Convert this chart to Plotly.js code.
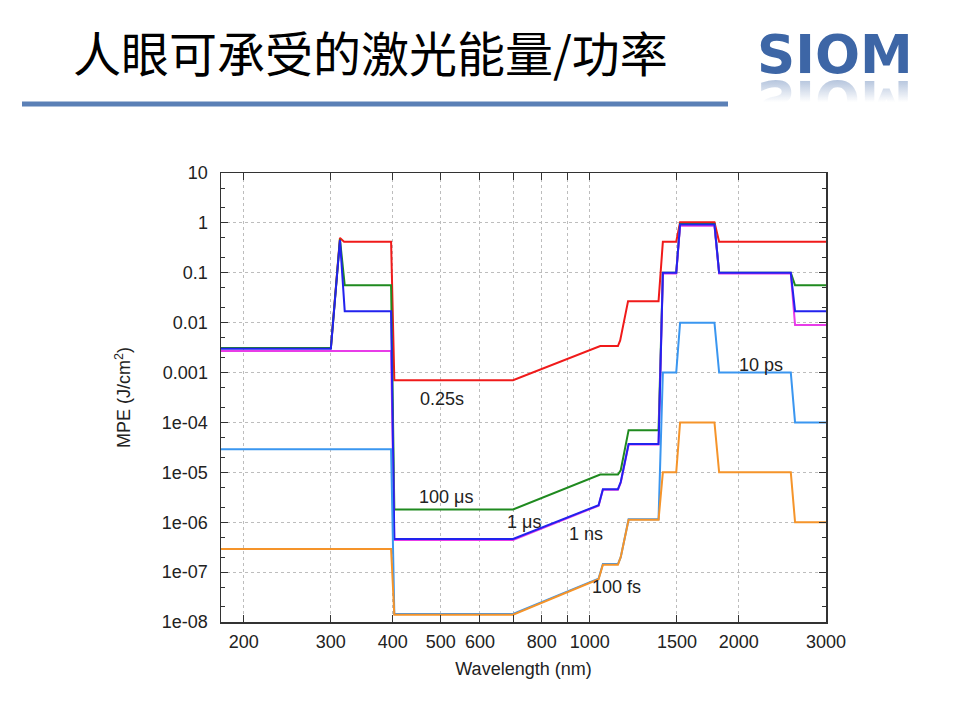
<!DOCTYPE html>
<html>
<head>
<meta charset="utf-8">
<script src="https://cdn.plot.ly/plotly-3.0.1.min.js"></script>
<style>
  body { margin: 0; background: #fff; }
  #wrap { position: relative; width: 960px; height: 720px; }
  #mirror {
    position: absolute; left: 757px; top: 73px;
    font-family: "DejaVu Sans"; font-weight: bold; font-size: 53px; line-height: 1;
    transform: scaleY(-1);
    background: linear-gradient(to top, rgba(61,102,166,0.5) 0%, rgba(61,102,166,0) 55%);
    -webkit-background-clip: text; background-clip: text; color: transparent;
  }
</style>
</head>
<body>
<div id="wrap">
  <div id="chart"></div>
  <div id="mirror">SIOM</div>
</div>
<script>
// wavelengths (nm) and MPE values (J/cm^2)
const wlRed = [180, 300, 313, 319, 397, 403, 700, 1050, 1140, 1152, 1195, 1377, 1405, 1495, 1522, 1786, 1825, 3000];
const mpeRed = [0.0031, 0.0031, 0.5, 0.42, 0.42, 0.0007, 0.0007, 0.0034, 0.0034, 0.0044, 0.027, 0.027, 0.42, 0.42, 1.03, 1.03, 0.42, 0.42];

const wlGreen = [180, 300, 313, 320, 397, 403, 700, 1050, 1140, 1155, 1198, 1377, 1405, 1495, 1522, 1786, 1825, 2547, 2598, 3000];
const mpeGreen = [0.0031, 0.0031, 0.47, 0.056, 0.056, 1.8e-6, 1.8e-6, 9e-6, 9e-6, 1.1e-5, 7e-5, 7e-5, 0.1, 0.1, 0.95, 0.95, 0.1, 0.1, 0.056, 0.056];

const wlMagenta = [180, 397, 403, 700, 1042, 1063, 1140, 1155, 1198, 1377, 1405, 1495, 1522, 1786, 1825, 2547, 2598, 3000];
const mpeMagenta = [0.0027, 0.0027, 4.4e-7, 4.4e-7, 2.15e-6, 4.5e-6, 4.5e-6, 6.2e-6, 3.6e-5, 3.6e-5, 0.097, 0.097, 0.88, 0.88, 0.097, 0.097, 0.009, 0.009];

const wlBlue = [180, 300, 313, 320, 397, 403, 700, 1042, 1063, 1140, 1155, 1198, 1377, 1405, 1495, 1522, 1786, 1825, 2547, 2598, 3000];
const mpeBlue = [0.003, 0.003, 0.45, 0.017, 0.017, 4.6e-7, 4.6e-7, 2.2e-6, 4.6e-6, 4.6e-6, 6.4e-6, 3.7e-5, 3.7e-5, 0.1, 0.1, 0.93, 0.93, 0.1, 0.1, 0.017, 0.017];

const wlSky = [180, 397, 403, 700, 1042, 1063, 1140, 1155, 1198, 1377, 1405, 1495, 1522, 1786, 1825, 2547, 2598, 3000];
const mpeSky = [2.9e-5, 2.9e-5, 1.45e-8, 1.45e-8, 7.4e-8, 1.45e-7, 1.45e-7, 2e-7, 1.15e-6, 1.15e-6, 1e-3, 1e-3, 1e-2, 1e-2, 1e-3, 1e-3, 1e-4, 1e-4];

const wlOrange = [180, 397, 403, 700, 1042, 1063, 1140, 1155, 1198, 1377, 1405, 1495, 1522, 1786, 1825, 2547, 2598, 3000];
const mpeOrange = [2.9e-7, 2.9e-7, 1.4e-8, 1.4e-8, 7.2e-8, 1.4e-7, 1.4e-7, 2e-7, 1.12e-6, 1.12e-6, 1e-5, 1e-5, 1e-4, 1e-4, 1e-5, 1e-5, 1e-6, 1e-6];

const xTicks = [200, 300, 400, 500, 600, 800, 1000, 1500, 2000, 3000];
const xTickText = ['200', '300', '400', '500', '600', '800', '1000', '1500', '2000', '3000'];
const xUnlabelled = [700, 900];
const yTicks = [1e-8, 1e-7, 1e-6, 1e-5, 1e-4, 1e-3, 1e-2, 0.1, 1, 10];
const yTickText = ['1e-08', '1e-07', '1e-06', '1e-05', '1e-04', '0.001', '0.01', '0.1', '1', '10'];

// pulse duration labels placed on the curves
const labelText = ['0.25s', '100 μs', '1 μs', '1 ns', '100 fs', '10 ps'];
const labelWl = [504, 513, 738, 984, 1131, 2218];
const labelMpe = [3.0e-4, 3.2e-6, 1.0e-6, 5.8e-7, 5.0e-8, 1.45e-3];

const lineFont = 'Liberation Sans, Arial, sans-serif';
const ink = '#222';

function curve(x, y, color, name) {
    return { x: x, y: y, name: name, mode: 'lines', type: 'scatter',
             line: { color: color, width: 2 }, hoverinfo: 'none' };
}

const data = [
    curve(wlRed, mpeRed, '#f01a1a', '0.25 s'),
    curve(wlGreen, mpeGreen, '#1f8a1f', '100 us'),
    curve(wlMagenta, mpeMagenta, '#e83ce8', '1 ns'),
    curve(wlBlue, mpeBlue, '#2222ee', '1 us'),
    curve(wlSky, mpeSky, '#3a96f0', '10 ps'),
    curve(wlOrange, mpeOrange, '#f5942a', '100 fs')
];

// minor ticks at 2 and 5 of every decade
let yMinor = [];
yTicks.slice(0, -1).forEach(d => { yMinor.push(2 * d); yMinor.push(5 * d); });

const annotations = labelText.map((t, i) => ({
    x: Math.log10(labelWl[i]), y: Math.log10(labelMpe[i]), xref: 'x', yref: 'y',
    text: t, showarrow: false, font: { family: lineFont, size: 18, color: ink }
}));

annotations.push({
    xref: 'paper', yref: 'paper', x: (755 - 221) / 605, y: (622 - 54) / 449,
    xanchor: 'left', yanchor: 'middle', showarrow: false, text: 'SIOM',
    font: { family: 'DejaVu Sans', size: 53, weight: 700, color: '#3d66a6' }
});

const gridStyle = { showgrid: true, gridcolor: '#bdbdbd', griddash: 'dot', gridwidth: 1 };

const layout = {
    width: 960, height: 720,
    margin: { l: 221, r: 134, t: 173, b: 98 },
    paper_bgcolor: '#fff', plot_bgcolor: '#fff',
    showlegend: false,
    title: {
        text: '人眼可承受的激光能量/功率',
        font: { family: 'Noto Sans CJK SC', size: 48, color: '#000' },
        xref: 'container', yref: 'container', x: 73 / 960, xanchor: 'left',
        y: 1 - 55 / 720, yanchor: 'middle'
    },
    xaxis: Object.assign({
        type: 'log', range: [Math.log10(180), Math.log10(3000)],
        tickmode: 'array', tickvals: xTicks, ticktext: xTickText,
        ticks: 'inside', ticklen: 7, tickcolor: '#333', tickwidth: 1,
        minor: Object.assign({ tickmode: 'array', tickvals: xUnlabelled, ticks: 'inside', ticklen: 7, tickcolor: '#333' }, gridStyle),
        showline: true, linecolor: '#333', linewidth: 1.5, mirror: 'allticks',
        zeroline: false, ticklabelstandoff: 3,
        tickfont: { family: lineFont, size: 18, color: ink },
        title: { text: 'Wavelength (nm)', standoff: 11, font: { family: lineFont, size: 18, color: ink } }
    }, gridStyle),
    yaxis: Object.assign({
        type: 'log', range: [-8, 1],
        tickmode: 'array', tickvals: yTicks, ticktext: yTickText,
        ticks: 'inside', ticklen: 7, tickcolor: '#333', tickwidth: 1,
        minor: { tickmode: 'array', tickvals: yMinor, ticks: 'inside', ticklen: 4, tickcolor: '#333', showgrid: false },
        showline: true, linecolor: '#333', linewidth: 1.5, mirror: 'allticks',
        zeroline: false, ticklabelstandoff: 8,
        tickfont: { family: lineFont, size: 18, color: ink },
        title: { text: 'MPE (J/cm<sup>2</sup>)', standoff: 26, font: { family: lineFont, size: 18, color: ink } }
    }, gridStyle),
    shapes: [{
        type: 'rect', xref: 'paper', yref: 'paper',
        x0: (22 - 221) / 605, x1: (728 - 221) / 605,
        y0: (622 - 106.5) / 449, y1: (622 - 101.5) / 449,
        fillcolor: '#5b80b6', line: { width: 0 }
    }],
    annotations: annotations
};

Plotly.newPlot('chart', data, layout, { staticPlot: true });
</script>
</body>
</html>
